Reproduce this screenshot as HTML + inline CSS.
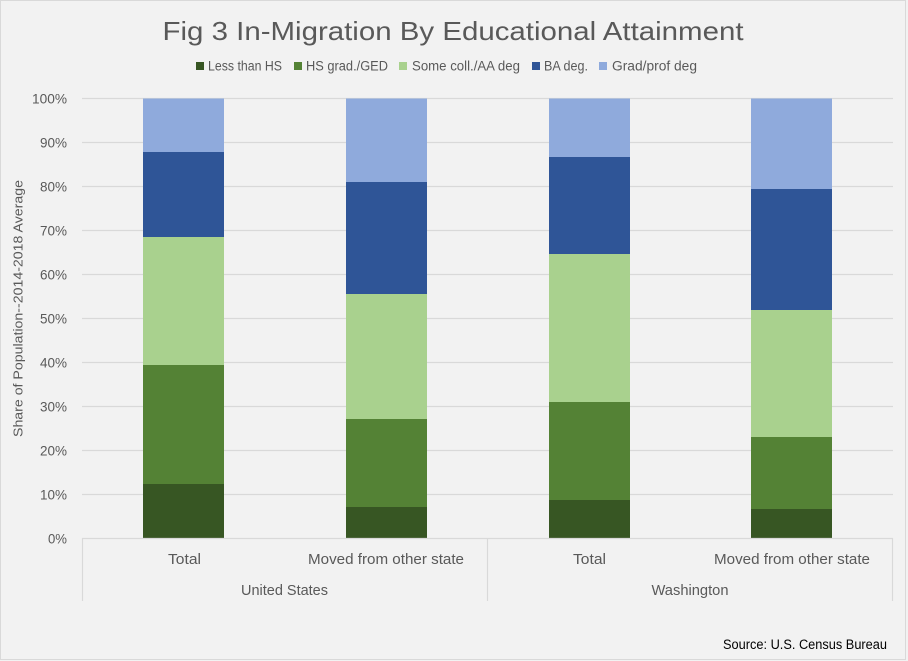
<!DOCTYPE html>
<html>
<head>
<meta charset="utf-8">
<style>
  html,body{margin:0;padding:0;background:#f2f2f2;}
  svg{display:block;}
  text{font-family:"Liberation Sans",sans-serif;fill:#595959;}
</style>
</head>
<body>
<svg width="908" height="661" viewBox="0 0 908 661" xmlns="http://www.w3.org/2000/svg">
  <rect x="0" y="0" width="908" height="661" fill="#f2f2f2"/>
  <rect x="0.5" y="0.5" width="905" height="659" fill="#f2f2f2" stroke="#d9d9d9" stroke-width="1"/>

  <!-- Title -->
  <text x="453" y="40" font-size="26" text-anchor="middle" textLength="581" lengthAdjust="spacingAndGlyphs">Fig 3 In-Migration By Educational Attainment</text>

  <!-- Legend -->
  <rect x="196" y="62" width="8" height="8" fill="#375623"/>
  <text x="208" y="70.5" font-size="13.5" textLength="74" lengthAdjust="spacingAndGlyphs">Less than HS</text>
  <rect x="294" y="62" width="8" height="8" fill="#548235"/>
  <text x="306" y="70.5" font-size="13.5" textLength="82" lengthAdjust="spacingAndGlyphs">HS grad./GED</text>
  <rect x="399" y="62" width="8" height="8" fill="#a9d18e"/>
  <text x="412" y="70.5" font-size="13.5" textLength="108" lengthAdjust="spacingAndGlyphs">Some coll./AA deg</text>
  <rect x="532" y="62" width="8" height="8" fill="#2f5597"/>
  <text x="544" y="70.5" font-size="13.5" textLength="44" lengthAdjust="spacingAndGlyphs">BA deg.</text>
  <rect x="599" y="62" width="8" height="8" fill="#8faadc"/>
  <text x="612" y="70.5" font-size="13.5" textLength="85" lengthAdjust="spacingAndGlyphs">Grad/prof deg</text>

  <!-- Gridlines -->
  <g stroke="#d9d9d9" stroke-width="1.2">
    <line x1="82" y1="98.5" x2="893" y2="98.5"/>
    <line x1="82" y1="142.5" x2="893" y2="142.5"/>
    <line x1="82" y1="186.5" x2="893" y2="186.5"/>
    <line x1="82" y1="230.5" x2="893" y2="230.5"/>
    <line x1="82" y1="274.5" x2="893" y2="274.5"/>
    <line x1="82" y1="318.5" x2="893" y2="318.5"/>
    <line x1="82" y1="362.5" x2="893" y2="362.5"/>
    <line x1="82" y1="406.5" x2="893" y2="406.5"/>
    <line x1="82" y1="450.5" x2="893" y2="450.5"/>
    <line x1="82" y1="494.5" x2="893" y2="494.5"/>
  </g>

  <!-- Y labels -->
  <g font-size="13.5" text-anchor="end">
    <text x="67" y="103.5" textLength="35" lengthAdjust="spacingAndGlyphs">100%</text>
    <text x="67" y="147.5" textLength="27" lengthAdjust="spacingAndGlyphs">90%</text>
    <text x="67" y="191.5" textLength="27" lengthAdjust="spacingAndGlyphs">80%</text>
    <text x="67" y="235.5" textLength="27" lengthAdjust="spacingAndGlyphs">70%</text>
    <text x="67" y="279.5" textLength="27" lengthAdjust="spacingAndGlyphs">60%</text>
    <text x="67" y="323.5" textLength="27" lengthAdjust="spacingAndGlyphs">50%</text>
    <text x="67" y="367.5" textLength="27" lengthAdjust="spacingAndGlyphs">40%</text>
    <text x="67" y="411.5" textLength="27" lengthAdjust="spacingAndGlyphs">30%</text>
    <text x="67" y="455.5" textLength="27" lengthAdjust="spacingAndGlyphs">20%</text>
    <text x="67" y="499.5" textLength="27" lengthAdjust="spacingAndGlyphs">10%</text>
    <text x="67" y="543.5" textLength="19" lengthAdjust="spacingAndGlyphs">0%</text>
  </g>

  <!-- Y axis title -->
  <text transform="translate(22.5,308.5) rotate(-90)" font-size="13" text-anchor="middle" textLength="257" lengthAdjust="spacingAndGlyphs">Share of Population--2014-2018 Average</text>

  <!-- Bar 1: US Total -->
  <rect x="143" y="484" width="81" height="54.5" fill="#375623"/>
  <rect x="143" y="365" width="81" height="119" fill="#548235"/>
  <rect x="143" y="237" width="81" height="128" fill="#a9d18e"/>
  <rect x="143" y="152" width="81" height="85" fill="#2f5597"/>
  <rect x="143" y="98.5" width="81" height="53.5" fill="#8faadc"/>

  <!-- Bar 2: US Moved -->
  <rect x="346" y="507" width="81" height="31.5" fill="#375623"/>
  <rect x="346" y="419" width="81" height="88" fill="#548235"/>
  <rect x="346" y="294" width="81" height="125" fill="#a9d18e"/>
  <rect x="346" y="182" width="81" height="112" fill="#2f5597"/>
  <rect x="346" y="98.5" width="81" height="83.5" fill="#8faadc"/>

  <!-- Bar 3: WA Total -->
  <rect x="549" y="500" width="81" height="38.5" fill="#375623"/>
  <rect x="549" y="402" width="81" height="98" fill="#548235"/>
  <rect x="549" y="254" width="81" height="148" fill="#a9d18e"/>
  <rect x="549" y="157" width="81" height="97" fill="#2f5597"/>
  <rect x="549" y="98.5" width="81" height="58.5" fill="#8faadc"/>

  <!-- Bar 4: WA Moved -->
  <rect x="751" y="509" width="81" height="29.5" fill="#375623"/>
  <rect x="751" y="437" width="81" height="72" fill="#548235"/>
  <rect x="751" y="310" width="81" height="127" fill="#a9d18e"/>
  <rect x="751" y="189" width="81" height="121" fill="#2f5597"/>
  <rect x="751" y="98.5" width="81" height="90.5" fill="#8faadc"/>

  <!-- X axis -->
  <g stroke="#d9d9d9" stroke-width="1.2">
    <line x1="82" y1="538.5" x2="893" y2="538.5"/>
    <line x1="82.5" y1="538" x2="82.5" y2="601"/>
    <line x1="487.5" y1="538" x2="487.5" y2="601"/>
    <line x1="892.5" y1="538" x2="892.5" y2="601"/>
  </g>

  <!-- Category labels -->
  <g font-size="14.5" text-anchor="middle">
    <text x="184.5" y="564" textLength="33" lengthAdjust="spacingAndGlyphs">Total</text>
    <text x="386" y="564" textLength="156" lengthAdjust="spacingAndGlyphs">Moved from other state</text>
    <text x="589.5" y="564" textLength="33" lengthAdjust="spacingAndGlyphs">Total</text>
    <text x="792" y="564" textLength="156" lengthAdjust="spacingAndGlyphs">Moved from other state</text>
    <text x="284.5" y="595" textLength="87" lengthAdjust="spacingAndGlyphs">United States</text>
    <text x="690" y="595" textLength="77" lengthAdjust="spacingAndGlyphs">Washington</text>
  </g>

  <!-- Source -->
  <text x="723" y="649" font-size="13.5" style="fill:#000" textLength="164" lengthAdjust="spacingAndGlyphs">Source: U.S. Census Bureau</text>
</svg>
</body>
</html>
